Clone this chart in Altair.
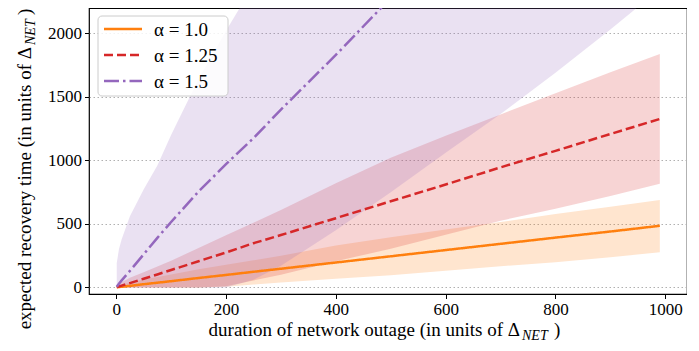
import altair as alt
import pandas as pd

# ---- data ----
xs = [1, 5, 10, 25, 50, 75, 100, 150, 200, 250, 300, 400, 500, 600, 700, 800, 900, 990]

series_names = ["α = 1.0", "α = 1.25", "α = 1.5"]

mean_10 = [1, 3, 5, 12, 25, 37, 49, 74, 98, 123, 147, 196, 245, 294, 343, 392, 440, 485]
hi_10 = [3, 12, 20, 38, 62, 82, 102, 142, 178, 213, 250, 330, 395, 455, 515, 577, 635, 689]
lo_10 = [0, 0, 0, 0, 0, 0, 0, 0, 6, 22, 38, 68, 95, 132, 166, 198, 238, 276]

mean_125 = [2, 7, 14, 34, 68, 102, 137, 206, 275, 348, 412, 545, 678, 810, 945, 1075, 1208, 1326]
hi_125 = [8, 25, 40, 75, 120, 165, 210, 310, 410, 510, 610, 820, 1020, 1195, 1362, 1528, 1694, 1838]
lo_125 = [0, 0, 0, 0, 0, 0, 0, 0, 10, 55, 100, 205, 305, 415, 525, 620, 720, 817]

mean_15 = [5, 28, 55, 130, 260, 390, 515, 755, 970, 1175, 1400, 1830, 2280, 2700, 3130, 3550, 3980, 4360]
hi_15 = [190, 300, 380, 560, 770, 960, 1200, 1640, 2020, 2380, 2700, 3300, 3850, 4350, 4850, 5300, 5750, 6150]
lo_15 = [0, 0, 0, 0, 0, 0, 0, 0, 0, 60, 170, 450, 750, 1060, 1365, 1690, 2030, 2350]

x_ticks = [0, 200, 400, 600, 800, 1000]
y_ticks = [0, 500, 1000, 1500, 2000]

colors = ["#ff7f0e", "#d62728", "#9467bd"]
dashes = [[1, 0], [9, 4], [15, 4, 2.5, 4]]

rows = []
for name, m, lo, hi in zip(series_names, [mean_10, mean_125, mean_15],
                           [lo_10, lo_125, lo_15], [hi_10, hi_125, hi_15]):
    for x, a, b, c in zip(xs, m, lo, hi):
        rows.append({"x": x, "series": name, "band": name, "mean": a, "lo": b, "hi": c})
df = pd.DataFrame(rows)

FONT = "Liberation Serif, DejaVu Serif, serif"
W, H = 598, 286

xscale = alt.Scale(domain=[-49.5, 1039.5], nice=False, zero=False)
yscale = alt.Scale(domain=[-52, 2200], nice=False, zero=False)

xaxis = alt.Axis(values=x_ticks, title=None, grid=False, domain=False, format="d",
                 tickSize=4.5, tickColor="black", tickWidth=1,
                 labelFont=FONT, labelFontSize=17, labelColor="black", labelPadding=3)
yaxis = alt.Axis(values=y_ticks, title=None, grid=True, domain=False, format="d",
                 gridColor="#b0b0b0", gridDash=[1.5, 2.5], gridWidth=1,
                 tickSize=4.5, tickColor="black", tickWidth=1,
                 labelFont=FONT, labelFontSize=17, labelColor="black", labelPadding=3)

base = alt.Chart(df)

bands = base.mark_area(fillOpacity=0.2, clip=True).encode(
    x=alt.X("x:Q", scale=xscale, axis=xaxis),
    y=alt.Y("lo:Q", scale=yscale, axis=yaxis),
    y2="hi:Q",
    fill=alt.Fill("band:N", scale=alt.Scale(domain=series_names, range=colors), legend=None),
)

lines = base.mark_line(strokeWidth=2.5, clip=True).encode(
    x=alt.X("x:Q", scale=xscale),
    y=alt.Y("mean:Q", scale=yscale),
    color=alt.Color("series:N", scale=alt.Scale(domain=series_names, range=colors), legend=None),
    strokeDash=alt.StrokeDash("series:N", scale=alt.Scale(domain=series_names, range=dashes), legend=None),
)

one = pd.DataFrame({"k": [0]})

# legend box and entries
legend_box = alt.Chart(one).mark_rect(
    fill="white", fillOpacity=0.85, stroke="#cccccc", strokeWidth=1, cornerRadius=4
).encode(x=alt.value(9), x2=alt.value(139), y=alt.value(8), y2=alt.value(88))

legend_layers = []
row_y = [21, 47, 73]
for name, col, dash, ry in zip(series_names, colors, dashes, row_y):
    legend_layers.append(
        alt.Chart(one).mark_rule(color=col, strokeWidth=2.5, strokeDash=dash).encode(
            x=alt.value(15), x2=alt.value(53), y=alt.value(ry))
    )
    legend_layers.append(
        alt.Chart(pd.DataFrame({"t": [name]})).mark_text(
            font=FONT, fontSize=19, align="left", baseline="middle", color="black"
        ).encode(x=alt.value(65), y=alt.value(ry + 1), text="t:N")
    )


# axis titles with subscripts
def txt(s, x, y, size=19, align="left", angle=0, dy=0, italic=False):
    return alt.Chart(pd.DataFrame({"t": [s]})).mark_text(
        font=FONT, fontSize=size, align=align, baseline="alphabetic", angle=angle,
        dy=dy, fontStyle="italic" if italic else "normal", color="black"
    ).encode(x=alt.value(x), y=alt.value(y), text="t:N")

xt1 = txt("duration of network outage (in units of Δ", 431, 328, align="right")
xt2 = txt("NET", 433, 328, size=14, dy=4, italic=True)
xt3 = txt(")", 465, 328)

yt1 = txt("expected recovery time (in units of Δ", -58, 39, align="right", angle=270)
yt2 = txt("NET", -58, 37, size=14, dy=4, italic=True, angle=270)
yt3 = txt(")", -58, 7, angle=270)

chart = alt.layer(bands, lines, legend_box, *legend_layers, xt1, xt2, xt3, yt1, yt2, yt3).properties(
    width=W, height=H,
    padding={"left": 8, "top": 0, "right": 0, "bottom": 0},
).configure_view(stroke="black", strokeWidth=1.2)

chart.save("out.html", embed_options={"renderer": "svg", "actions": False})
